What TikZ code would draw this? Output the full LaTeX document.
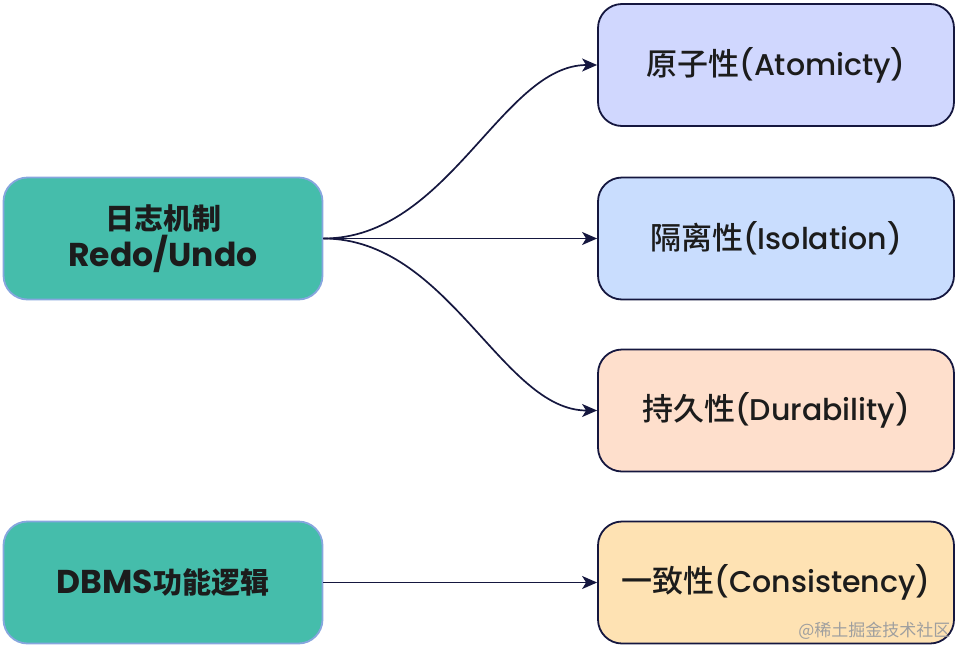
\documentclass[tikz,border=0pt]{standalone}
\usepackage{fontspec}
\setmainfont{Poppins}
\newfontfamily\popm{Poppins Medium}
\newfontfamily\cjk{Noto Sans CJK SC}
\newfontfamily\cjkm{Noto Sans CJK SC Medium}
\usetikzlibrary{arrows.meta}
\definecolor{teal1}{HTML}{45BDAB}
\definecolor{tealedge}{HTML}{86A6DE}
\definecolor{navy}{HTML}{15173F}
\definecolor{fatom}{HTML}{D0D7FE}
\definecolor{fiso}{HTML}{C9DDFE}
\definecolor{fdur}{HTML}{FEDFCC}
\definecolor{fcons}{HTML}{FEE2B3}
\definecolor{txt}{HTML}{1C1C1C}
\newcommand{\lcj}[1]{{\cjk\bfseries\fontsize{29}{36}\selectfont #1}}
\newcommand{\rcj}[1]{{\cjkm\fontsize{31}{36}\selectfont #1}}
\begin{document}
\begin{tikzpicture}[x=1pt,y=-1pt,
  lbox/.style={draw=tealedge, line width=1.8pt, fill=teal1, rounded corners=24pt,
    minimum width=319pt, minimum height=122pt, inner sep=0pt, text=txt,
    font=\bfseries\fontsize{33}{37}\selectfont, align=center},
  rbox/.style={draw=navy, line width=1.8pt, rounded corners=24pt,
    minimum width=356pt, minimum height=122pt, inner sep=0pt, text=txt,
    font=\popm\fontsize{30}{36}\selectfont},
  conn/.style={draw=navy, line width=1.7pt, -{Stealth[length=15pt,width=13pt,inset=4pt]}}]
\useasboundingbox (0,0) rectangle (958,648);
\node[lbox] (log) at (163,238.5) {\lcj{日志机制}\\Redo/Undo};
\node[lbox] (dbms) at (163,582.5) {DBMS\lcj{功能逻辑}};
\node[rbox, fill=fatom] (atom) at (776,65) {\rcj{原子性}(Atomicty)};
\node[rbox, fill=fiso] (iso) at (776,238.5) {\rcj{隔离性}(Isolation)};
\node[rbox, fill=fdur] (dur) at (776,410.5) {\rcj{持久性}(Durability)};
\node[rbox, fill=fcons] (cons) at (776,582.5) {\rcj{一致性}(Consistency)};
\draw[conn] (log.east) .. controls +(125,0) and +(-95,0) .. (atom.west);
\draw[conn] (log.east) -- (iso.west);
\draw[conn] (log.east) .. controls +(125,0) and +(-95,0) .. (dur.west);
\draw[conn] (dbms.east) -- (cons.west);
\node[text=gray!75, font=\cjk\fontsize{17}{19}\selectfont, anchor=east] (wm) at (954,631) {@稀土掘金技术社区};
\end{tikzpicture}
\end{document}
